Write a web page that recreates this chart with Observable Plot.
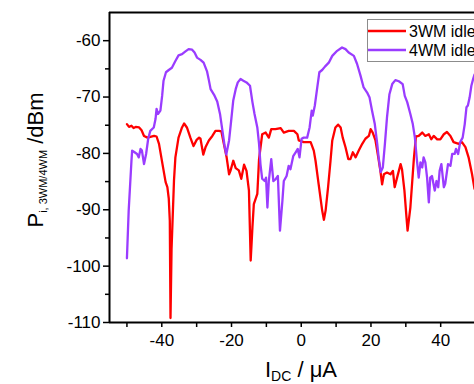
<!DOCTYPE html>
<html><head><meta charset="utf-8">
<script src="https://cdn.jsdelivr.net/npm/d3@7"></script>
<script src="https://cdn.jsdelivr.net/npm/@observablehq/plot@0.6"></script>
<style>
html,body{margin:0;padding:0;background:#fff;overflow:hidden;width:474px;height:384px}
#topline{position:absolute;left:0;top:5px;width:474px;height:2px;background:#e3e3e3}
#chart{position:absolute;left:0;top:0}
</style></head><body>
<div id="topline"></div>
<div id="chart"></div>
<script>
const xDomain = [-55, 49.7];
const yDomain = [-110, -55];
const xMajor = [-40, -20, 0, 20, 40];
const xMinor = [-50, -30, -10, 10, 30];
const yMajor = [-110, -100, -90, -80, -70, -60];
const yMinor = [-105, -95, -85, -75, -65];
const seriesNames = ["3WM idler", "4WM idler"];
const seriesColors = ["#ff0000", "#9a3cff"];

// 3WM idler
const idc3 = [-50.0,-49.4,-48.7,-48.1,-47.5,-46.5,-45.8,-45.1,-44.1,-42.2,-41.5,-40.8,-39.8,-38.9,-38.4,-38.0,-37.7,-37.5,-37.2,-36.8,-36.5,-36.1,-35.2,-34.2,-33.6,-32.8,-31.8,-30.9,-30.0,-29.3,-28.9,-28.1,-27.4,-26.5,-25.5,-24.6,-23.6,-22.9,-22.2,-21.4,-20.7,-20.3,-19.5,-18.8,-17.9,-17.2,-16.4,-15.7,-15.0,-14.5,-14.0,-13.6,-12.6,-12.1,-11.2,-10.2,-9.3,-8.6,-7.4,-5.9,-5.0,-3.6,-2.1,-1.1,-0.7,0.7,2.7,3.6,4.1,5.0,6.0,6.5,7.0,7.7,8.4,8.9,9.8,10.6,11.3,11.9,12.7,13.5,14.1,14.8,15.6,16.5,17.5,18.4,19.4,19.9,20.5,21.3,22.1,22.7,23.2,23.7,24.6,25.6,26.3,26.8,27.5,28.5,28.9,29.6,30.2,30.5,31.3,32.3,32.9,33.7,34.7,35.6,36.6,37.3,38.0,39.0,39.9,40.9,41.8,42.8,43.7,45.2,46.1,47.1,48.0,49.0,49.7];
const p3 = [-74.8,-75.3,-75.1,-75.5,-75.3,-75.4,-75.9,-76.9,-77.2,-76.9,-77.0,-78.3,-81.9,-85.1,-86.0,-88.0,-92.0,-109.2,-97.0,-90.0,-84.8,-80.7,-77.2,-75.4,-74.7,-75.4,-77.2,-78.7,-77.6,-77.2,-77.4,-80.2,-78.8,-77.7,-76.9,-76.0,-76.0,-76.1,-78.3,-80.7,-83.7,-83.1,-81.3,-82.6,-83.0,-84.5,-82.0,-83.1,-86.6,-99.0,-93.1,-89.0,-87.2,-81.0,-76.6,-76.3,-77.2,-75.7,-75.7,-75.5,-76.3,-76.0,-76.0,-76.6,-77.7,-78.0,-78.0,-79.5,-81.3,-85.5,-90.1,-91.8,-90.1,-86.0,-81.3,-77.7,-75.4,-74.9,-75.4,-77.2,-78.9,-81.0,-81.0,-79.8,-80.7,-79.5,-78.3,-77.4,-76.9,-75.7,-76.3,-77.7,-80.7,-83.1,-85.5,-83.7,-83.4,-83.7,-83.1,-86.0,-84.3,-81.9,-82.8,-86.6,-91.4,-93.7,-89.6,-81.0,-77.0,-76.9,-76.3,-76.9,-76.6,-77.5,-76.9,-77.5,-77.5,-76.6,-76.2,-76.9,-78.0,-78.3,-78.0,-78.9,-80.7,-83.7,-86.3];

// 4WM idler
const idc4 = [-50.0,-49.5,-48.7,-48.5,-47.8,-47.1,-46.6,-46.1,-45.7,-45.1,-44.5,-43.9,-43.3,-42.3,-41.8,-41.5,-41.1,-40.4,-39.9,-39.5,-38.8,-38.0,-37.1,-36.1,-35.2,-34.2,-33.2,-32.3,-31.3,-30.6,-29.9,-28.9,-28.0,-27.0,-26.5,-26.0,-25.0,-24.1,-23.3,-22.6,-22.0,-21.5,-20.7,-20.1,-19.5,-18.8,-18.2,-17.4,-16.6,-15.7,-14.7,-14.0,-13.4,-12.6,-12.1,-11.7,-11.2,-10.5,-10.1,-9.7,-9.3,-8.6,-8.0,-7.4,-6.7,-6.1,-5.4,-5.0,-4.2,-3.6,-3.1,-2.3,-1.6,-1.0,-0.5,0.1,0.7,1.7,2.4,3.0,3.3,3.9,4.6,5.2,6.0,6.8,7.9,8.9,10.3,11.7,12.7,13.6,15.1,16.0,17.0,17.9,18.9,19.6,20.3,21.1,21.8,22.2,22.8,23.4,24.0,24.6,25.3,26.1,27.0,28.0,29.1,29.7,30.4,31.3,32.0,32.6,33.2,33.7,34.2,34.7,35.1,35.6,36.1,36.6,37.0,37.5,38.3,38.8,39.3,39.7,40.2,40.9,41.3,42.1,42.8,43.3,44.0,44.4,45.0,45.6,46.3,46.9,47.4,47.8,48.3,48.8,49.3,49.7];
const p4 = [-98.6,-90.2,-81.3,-79.5,-79.8,-80.1,-80.7,-79.2,-79.5,-81.9,-80.1,-77.4,-76.0,-75.4,-73.9,-72.1,-73.0,-72.4,-69.8,-67.1,-65.6,-65.2,-64.8,-63.6,-62.6,-62.4,-61.9,-61.5,-61.6,-62.1,-63.0,-63.4,-63.9,-65.5,-67.0,-68.6,-69.6,-70.8,-73.0,-76.0,-78.6,-80.2,-77.7,-74.2,-70.6,-68.6,-67.4,-66.8,-67.1,-67.4,-68.0,-70.9,-73.0,-75.4,-78.3,-81.9,-84.5,-84.9,-84.3,-89.6,-84.9,-81.0,-84.9,-84.6,-84.0,-93.7,-88.4,-84.9,-84.0,-82.2,-82.8,-80.5,-79.8,-79.2,-80.7,-77.4,-77.2,-77.2,-75.4,-72.4,-73.3,-71.5,-68.3,-65.6,-65.2,-64.6,-63.9,-62.7,-61.8,-61.2,-61.5,-62.1,-62.7,-64.1,-66.2,-68.3,-69.2,-70.1,-72.4,-74.8,-78.3,-80.7,-83.3,-82.5,-78.3,-73.6,-69.5,-67.7,-67.0,-67.2,-67.7,-69.8,-70.9,-73.0,-74.8,-77.2,-81.3,-84.3,-81.6,-82.5,-80.7,-81.6,-84.3,-88.7,-84.3,-84.0,-86.6,-84.9,-86.0,-83.1,-81.9,-86.0,-85.4,-81.9,-82.2,-80.1,-80.1,-79.2,-80.1,-78.0,-77.2,-74.8,-71.8,-71.5,-70.1,-68.0,-66.8,-66.0];

const rows3 = d3.zip(idc3, p3).map(([x, y]) => ({x, y}));
const rows4 = d3.zip(idc4, p4).map(([x, y]) => ({x, y}));
const fmt = d => String(d);
const font = "Liberation Sans, Arial, sans-serif";

const plot = Plot.plot({
  width: 474,
  height: 384,
  marginLeft: 109,
  marginRight: 0,
  marginTop: 12,
  marginBottom: 62,
  style: {fontFamily: font, background: "white", color: "black"},
  x: {domain: xDomain, label: null},
  y: {domain: yDomain, label: null},
  marks: [
    Plot.line(rows3, {x: "x", y: "y", stroke: seriesColors[0], strokeWidth: 2.3, strokeLinejoin: "round"}),
    Plot.line(rows4, {x: "x", y: "y", stroke: seriesColors[1], strokeWidth: 2.3, strokeLinejoin: "round"}),
    Plot.axisY(yMajor, {tickSize: 6, tickPadding: 3, tickFormat: fmt, fontSize: 17, strokeWidth: 1.5, label: null}),
    Plot.axisY(yMinor, {tickSize: 4, tickFormat: () => "", strokeWidth: 1.5, label: null}),
    Plot.axisX(xMajor, {tickSize: 5, tickPadding: 6, tickFormat: fmt, fontSize: 17, strokeWidth: 1.5, label: null}),
    Plot.axisX(xMinor, {tickSize: 5, tickFormat: () => "", strokeWidth: 1.5, label: null}),
    Plot.ruleX([xDomain[0]], {stroke: "black", strokeWidth: 2}),
    Plot.ruleY([yDomain[0]], {stroke: "black", strokeWidth: 2}),
    Plot.ruleY([yDomain[1]], {stroke: "black", strokeWidth: 2})
  ]
});
document.getElementById("chart").appendChild(plot);

const svg = d3.select(plot);
// Legend
const lg = svg.append("g").attr("font-family", font).attr("text-anchor", "start");
lg.append("rect").attr("x", 367.5).attr("y", 19.5).attr("width", 140).attr("height", 42)
  .attr("fill", "white").attr("stroke", "#8c8c8c").attr("stroke-width", 1);
seriesNames.forEach((name, i) => {
  const yy = 31 + i * 19;
  lg.append("line").attr("x1", 368).attr("x2", 406).attr("y1", yy).attr("y2", yy)
    .attr("stroke", seriesColors[i]).attr("stroke-width", 2.5);
  lg.append("text").attr("x", 409).attr("y", yy + 5.5).attr("font-size", 16)
    .attr("text-anchor", "start").attr("fill", "black").text(name);
});

// Y axis title
const yt = svg.append("text").attr("font-family", font).attr("font-size", 22).attr("fill", "black")
  .attr("text-anchor", "middle").attr("transform", "translate(43,160) rotate(-90)");
yt.append("tspan").text("P");
yt.append("tspan").attr("font-size", 11).attr("dy", 4).text("i, 3WM/4WM");
yt.append("tspan").attr("dy", -4).text(" /dBm");

// X axis title
const xt = svg.append("text").attr("font-family", font).attr("font-size", 22).attr("fill", "black")
  .attr("text-anchor", "middle").attr("x", 301).attr("y", 377);
xt.append("tspan").text("I");
xt.append("tspan").attr("font-size", 14).attr("dy", 4).text("DC");
xt.append("tspan").attr("dy", -4).text(" / μA");
</script>
</body></html>
